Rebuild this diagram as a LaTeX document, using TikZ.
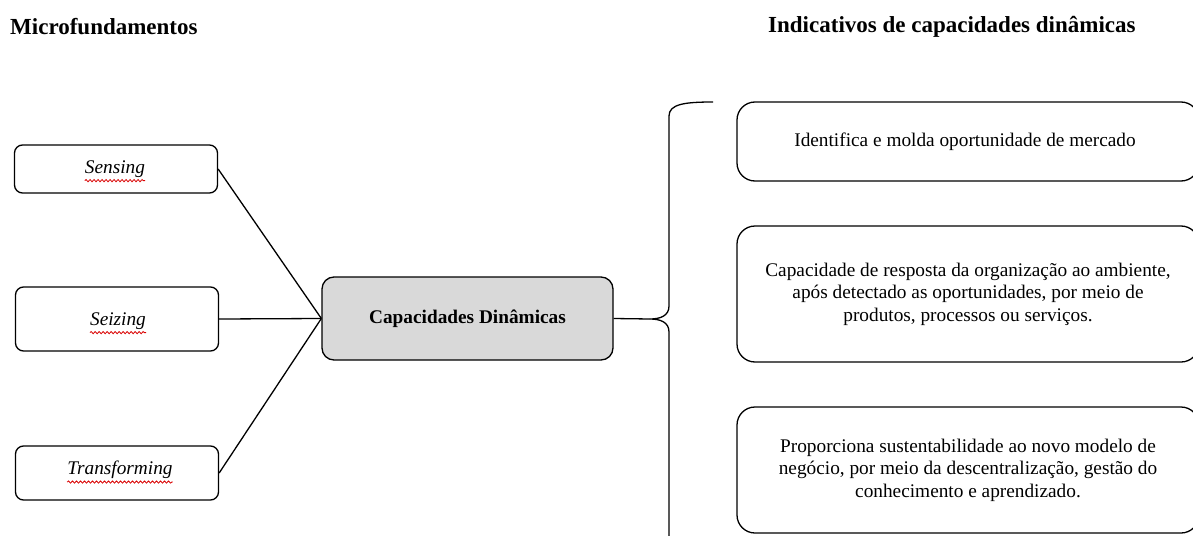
\documentclass[tikz,border=0pt]{standalone}
\usepackage{fontspec}
\setmainfont{Liberation Serif}
\usetikzlibrary{decorations.pathmorphing}
\begin{document}
\begin{tikzpicture}[x=1pt,y=-1pt,
  every node/.style={font=\fontsize{19.3}{22.5}\selectfont},
  title/.style={font=\fontsize{23}{27}\selectfont\bfseries, anchor=west, inner sep=0},
  leftbox/.style={draw, line width=1.3pt, rounded corners=8pt, minimum width=203pt, inner sep=0},
  txt/.style={inner sep=0},
  cbox/.style={draw, line width=1.3pt, rounded corners=12pt, fill=gray!30, minimum width=291pt, minimum height=83pt, font=\fontsize{19.3}{22.5}\selectfont\bfseries},
  rbox/.style={draw, line width=1.3pt, rounded corners=18pt, minimum width=462pt, align=center},
  link/.style={line width=1.3pt},
  spell/.style={draw=red!85!black, line width=0.8pt, decorate, decoration={snake, amplitude=1.1pt, segment length=4pt}}
]
\useasboundingbox (0,0) rectangle (1193,535);

% titles
\node[title] (t1) at (10,27) {Microfundamentos};
\node[title] (t2) at (768,27) {Indicativos de capacidades dinâmicas};

% left boxes
\node[leftbox, minimum height=48pt] (s) at (116,169) {};
\node[txt] (sT) at (115,169) {\itshape Sensing};
\node[leftbox, minimum height=64pt] (z) at (117,319) {};
\node[txt] (zT) at (118,321) {\itshape Seizing};
\node[leftbox, minimum height=54pt] (t) at (117,473) {};
\node[txt] (tT) at (120,470) {\itshape Transforming};

\draw[spell] ([yshift=-3pt]sT.south west) -- ([yshift=-3pt]sT.south east);
\draw[spell] ([yshift=-3pt]zT.south west) -- ([yshift=-3pt]zT.south east);
\draw[spell] ([yshift=-3pt]tT.south west) -- ([yshift=-3pt]tT.south east);

% center box
\node[cbox] (cd) at (467.5,318.5) {Capacidades Dinâmicas};

\draw[link] (s.east) -- (cd.west);
\draw[link] (z.east) -- (cd.west);
\draw[link] (t.east) -- (cd.west);

% brace
\coordinate (tip) at (650,319);
\draw[link] (cd.east) -- (tip);
\draw[link] (713,102) .. controls (685,102) and (669,104) .. (669,116)
  -- (669,306) .. controls (669,316) and (660,319) .. (tip)
  .. controls (660,319) and (669,322) .. (669,332) -- (669,540);

% right boxes (right edges run off the page, as in the reference)
\node[rbox, minimum height=79pt] (r1) at (968,141.5) {\hspace*{-6pt}Identifica e molda oportunidade de mercado};
\node[rbox, minimum height=136pt] (r2) at (968,294) {Capacidade de resposta da organização ao ambiente,\\ após detectado as oportunidades, por meio de\\ produtos, processos ou serviços.\hspace*{0pt}};
\node[rbox, minimum height=126pt] (r3) at (968,470) {Proporciona sustentabilidade ao novo modelo de\\ negócio, por meio da descentralização, gestão do\\ conhecimento e aprendizado.};
\end{tikzpicture}
\end{document}
